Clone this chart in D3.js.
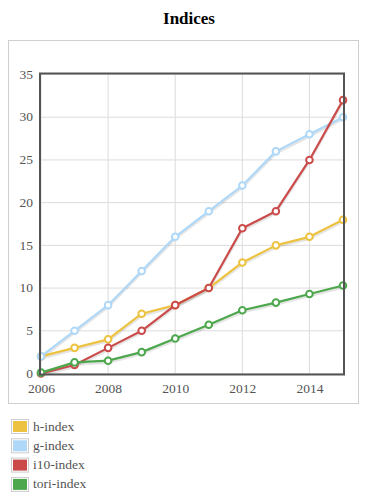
<!DOCTYPE html>
<html><head><meta charset="utf-8">
<script src="https://cdn.jsdelivr.net/npm/d3@7"></script>
<style>
html,body{margin:0;padding:0;background:#fff;}
svg{display:block;}
svg text{font-family:"Liberation Serif","Times New Roman",serif;}
</style></head>
<body>
<svg id="c" width="378" height="498"></svg>
<script>
const years = [2006, 2007, 2008, 2009, 2010, 2011, 2012, 2013, 2014, 2015];
const hIndex = [2, 3, 4, 7, 8, 10, 13, 15, 16, 18];
const gIndex = [2, 5, 8, 12, 16, 19, 22, 26, 28, 30];
const i10Index = [0, 1, 3, 5, 8, 10, 17, 19, 25, 32];
const toriIndex = [0.1, 1.3, 1.5, 2.5, 4.1, 5.7, 7.4, 8.3, 9.3, 10.3];
const seriesNames = ["h-index", "g-index", "i10-index", "tori-index"];
const seriesColors = ["#edc240", "#afd8f8", "#cb4b4b", "#4da74d"];
const xTicks = [2006, 2008, 2010, 2012, 2014];
const yTicks = [0, 5, 10, 15, 20, 25, 30, 35];

const series = [hIndex, gIndex, i10Index, toriIndex].map((vals, i) => ({
  name: seriesNames[i], color: seriesColors[i],
  pts: years.map((y, j) => ({x: y, y: vals[j]}))
}));

const svg = d3.select("#c");
svg.append("text").attr("x", 189).attr("y", 24).attr("text-anchor", "middle")
  .attr("font-size", 17).attr("font-weight", "bold").attr("fill", "#000").text("Indices");

svg.append("rect").attr("x", 8.5).attr("y", 40.5).attr("width", 350).attr("height", 363)
  .attr("fill", "none").attr("stroke", "#cfcfcf");

const L = 41, R = 343, T = 74.5, B = 373.5;
const x = d3.scaleLinear().domain([2006, 2015]).range([L, R]);
const y = d3.scaleLinear().domain([0, 35]).range([B, T]);

const g = svg.append("g");
// grid
g.selectAll(".vg").data(xTicks).join("line")
  .attr("x1", d => x(d)).attr("x2", d => x(d)).attr("y1", T).attr("y2", B)
  .attr("stroke", "#dcdcdc").attr("stroke-width", 1);
g.selectAll(".hg").data(yTicks).join("line")
  .attr("x1", L).attr("x2", R).attr("y1", d => y(d)).attr("y2", d => y(d))
  .attr("stroke", "#dcdcdc").attr("stroke-width", 1);

// axes labels via d3 axes
const xAxis = d3.axisBottom(x).tickValues(xTicks).tickFormat(d3.format("d")).tickSize(0).tickPadding(10);
const yAxis = d3.axisLeft(y).tickValues(yTicks).tickSize(0).tickPadding(8);
const xa = svg.append("g").attr("transform", `translate(0,${B})`).call(xAxis);
const ya = svg.append("g").attr("transform", `translate(${L},0)`).call(yAxis);
[xa, ya].forEach(a => {
  a.select(".domain").remove();
  a.selectAll("text").attr("font-size", 13.5).attr("fill", "#545454");
});
ya.selectAll("text").attr("dy", "0.28em");

const line = d3.line().x(d => x(d.x)).y(d => y(d.y));
// shadows
series.forEach(s => {
  g.append("path").datum(s.pts).attr("d", line).attr("fill", "none")
    .attr("stroke", "rgba(0,0,0,0.1)").attr("stroke-width", 2.5)
    .attr("transform", "translate(0,2)");
});
series.forEach(s => {
  g.append("path").datum(s.pts).attr("d", line).attr("fill", "none")
    .attr("stroke", s.color).attr("stroke-width", 2.2).attr("stroke-linejoin", "round");
  g.selectAll(null).data(s.pts).join("circle")
    .attr("cx", d => x(d.x)).attr("cy", d => y(d.y)).attr("r", 3.3)
    .attr("fill", "#fff").attr("stroke", s.color).attr("stroke-width", 2);
});

// border
svg.append("rect").attr("x", L - 1).attr("y", T - 1).attr("width", R - L + 2).attr("height", B - T + 2)
  .attr("fill", "none").attr("stroke", "#545454").attr("stroke-width", 2);

// legend
const lg = svg.append("g");
series.forEach((s, i) => {
  const yy = 419 + i * 19.3;
  lg.append("rect").attr("x", 11.5).attr("y", yy + 0.5).attr("width", 17).attr("height", 14)
    .attr("fill", "#fff").attr("stroke", "#ccc");
  lg.append("rect").attr("x", 13).attr("y", yy + 2).attr("width", 14).attr("height", 11).attr("fill", s.color);
  lg.append("text").attr("x", 33).attr("y", yy + 11.5).attr("font-size", 13.5).attr("fill", "#545454")
    .text(s.name);
});
</script>
</body></html>
